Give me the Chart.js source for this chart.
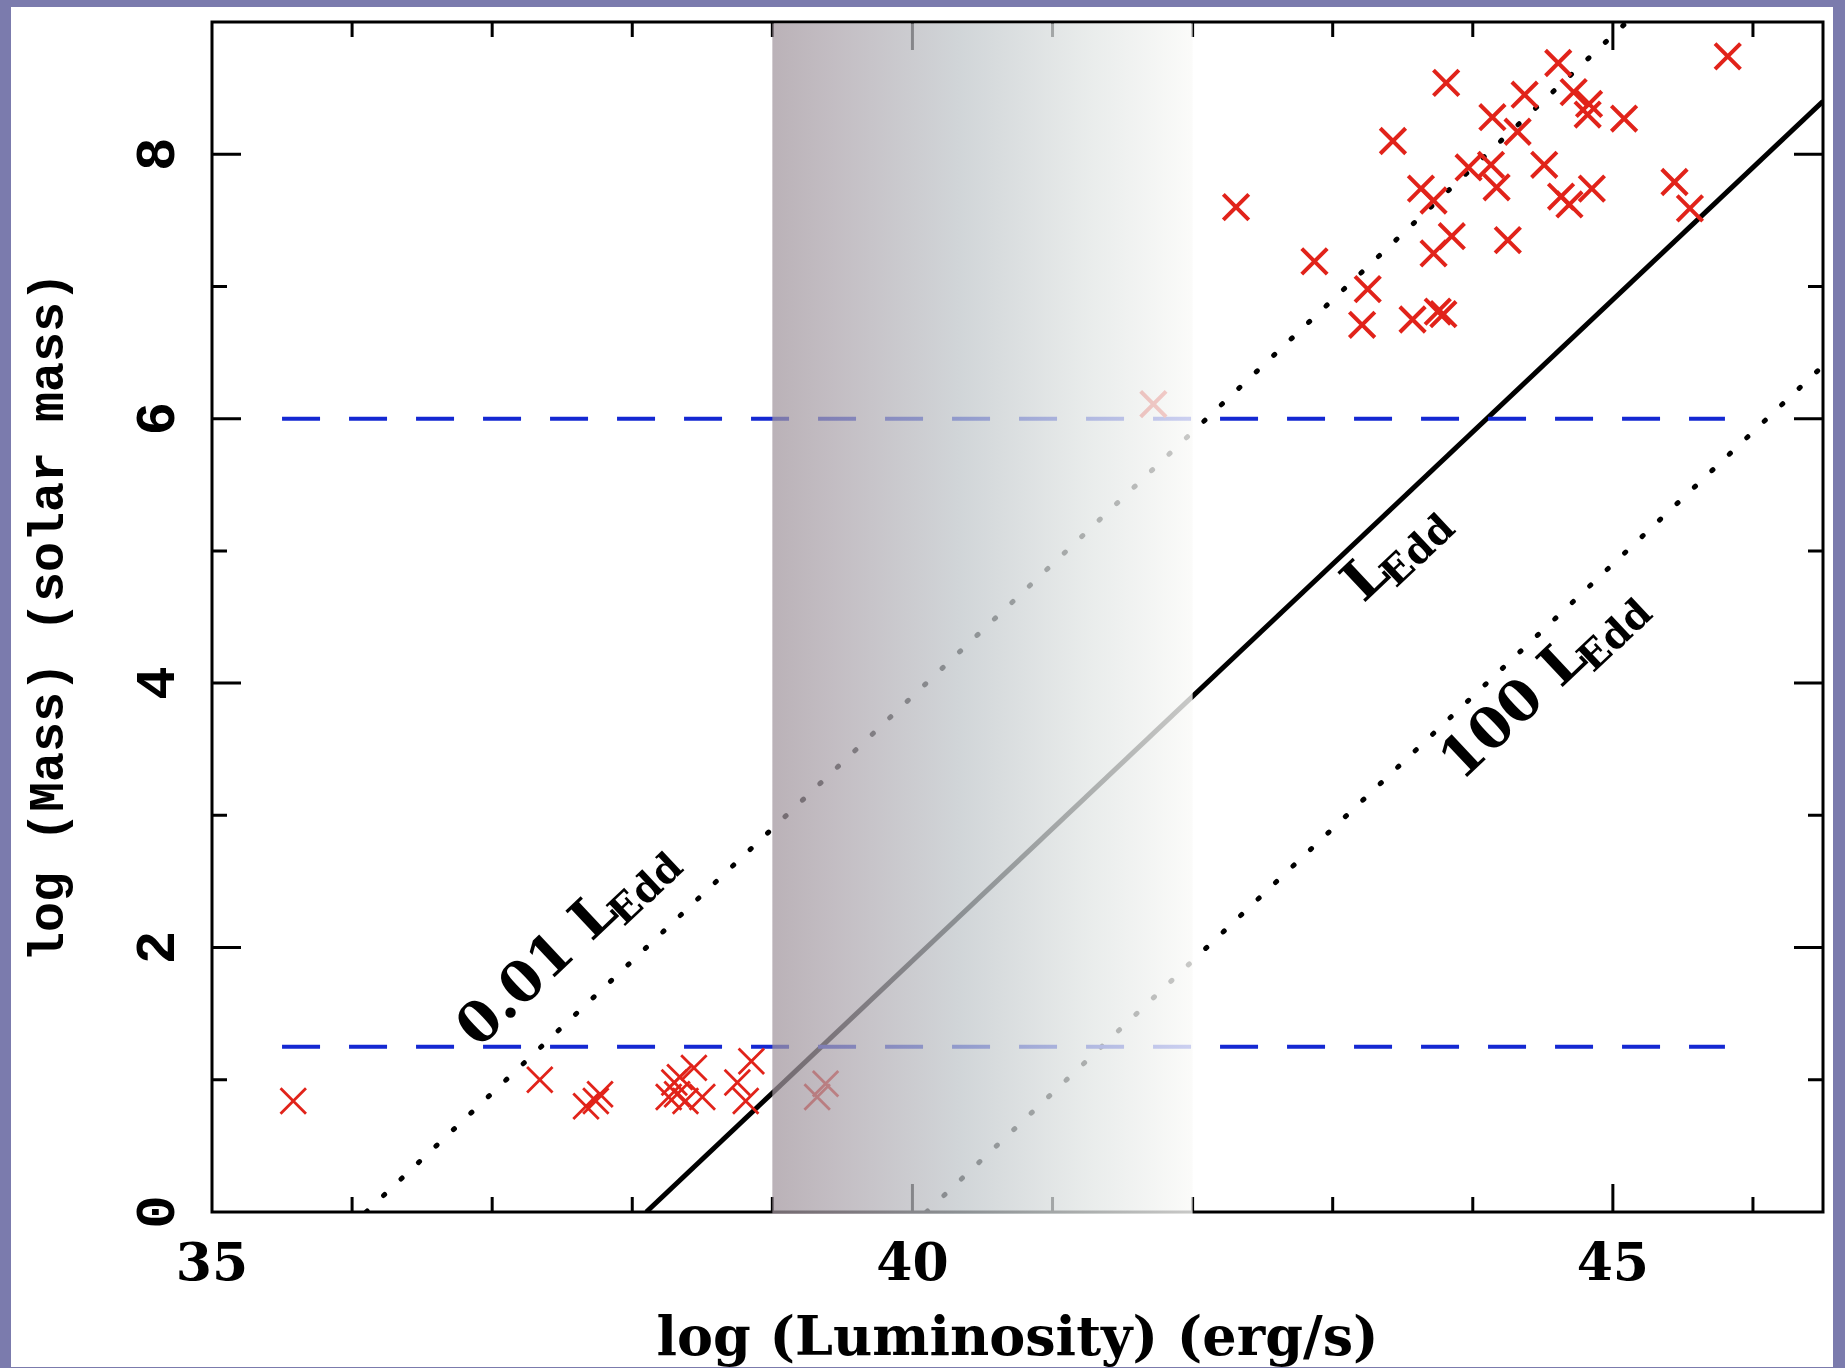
<!DOCTYPE html>
<html>
<head>
<meta charset="utf-8">
<title>log Mass vs log Luminosity</title>
<script src="https://cdn.jsdelivr.net/npm/chart.js@4.4.1/dist/chart.umd.min.js"></script>
<style>
  html, body { margin: 0; padding: 0; background: #7b7bad; }
  #wrap { width: 1845px; height: 1368px; }
</style>
</head>
<body>
<div id="wrap"><canvas id="myChart" width="1845" height="1368"></canvas></div>
<script>
// supermassive black holes (log L, log M)
const agnLum  = [45.82, 44.61, 43.81, 44.37, 44.72, 44.83, 44.82, 44.14, 45.08, 43.43, 44.32,
                 43.97, 44.51, 44.13, 44.17, 43.63, 43.72, 44.63, 44.69, 44.85, 45.44, 45.55,
                 42.31, 42.87, 43.72, 43.85, 44.25, 43.25, 43.21, 43.57, 43.75, 43.79, 41.72];
const agnMass = [8.74, 8.69, 8.54, 8.45, 8.47, 8.38, 8.30, 8.28, 8.27, 8.10, 8.17,
                 7.90, 7.92, 7.92, 7.75, 7.74, 7.65, 7.68, 7.62, 7.74, 7.79, 7.59,
                 7.60, 7.19, 7.25, 7.38, 7.35, 6.98, 6.71, 6.75, 6.81, 6.79, 6.11];
// stellar mass black holes
const xrbLum  = [35.58, 37.34, 37.67, 37.77, 37.74, 38.26, 38.30, 38.34, 38.32, 38.38,
                 38.44, 38.50, 38.75, 38.81, 38.85, 39.32, 39.38];
const xrbMass = [0.84, 1.00, 0.80, 0.89, 0.84, 0.87, 0.98, 1.02, 0.89, 0.84,
                 1.09, 0.87, 0.98, 0.84, 1.14, 0.87, 0.97];

// Eddington lines 0.01, 1, 100 L_Edd (end points)
const eddLum  = [[36.1, 45.1], [38.1, 46.5], [40.1, 46.5]];
const eddMass = [[0, 9], [0, 8.4], [0, 6.4]];
const eddText = ['0.01 L', 'L', '100 L'];
const labelLum  = [36.9, 43.22, 43.92];
const labelMass = [1.23, 4.60, 3.25];

// blue dashed mass limits
const limitMass = [6, 1.25];
const limitLum  = [35.5, 45.8];

// shaded band
const bandLum = [39, 42];

const xTicks = [35, 40, 45];
const yTicks = [0, 2, 4, 6, 8];

const RED = '#e1231a';
const BLUE = '#1428d2';

function pts(xs, ys){
    return xs.map((x, i) => ({x: x, y: ys[i]}));
}

const datasets = [];
datasets.push({
    label: 'SMBH', data: pts(agnLum, agnMass),
    pointStyle: 'crossRot', pointRadius: 18, pointHoverRadius: 18,
    pointBorderWidth: 4, pointBorderColor: RED, pointBackgroundColor: RED
});
datasets.push({
    label: 'XRB', data: pts(xrbLum, xrbMass),
    pointStyle: 'crossRot', pointRadius: 18, pointHoverRadius: 18,
    pointBorderWidth: 2.8, pointBorderColor: RED, pointBackgroundColor: RED
});
limitMass.forEach(m => {
    datasets.push({
        label: 'limit', data: [{x: limitLum[0], y: m}, {x: limitLum[1], y: m}],
        showLine: true, pointRadius: 0, borderColor: BLUE, borderWidth: 4,
        borderDash: [38, 29], borderCapStyle: 'butt'
    });
});
eddLum.forEach((l, i) => {
    const dotted = i != 1;
    datasets.push({
        label: eddText[i], data: [{x: l[0], y: eddMass[i][0]}, {x: l[1], y: eddMass[i][1]}],
        showLine: true, pointRadius: 0, borderColor: '#000',
        borderWidth: 5,
        borderDash: dotted ? [1.5, 22.5] : [],
        borderCapStyle: dotted ? 'round' : 'butt'
    });
});

function drawEdd(c, txt, x, y, ang, size){
    c.save();
    c.translate(x, y);
    c.rotate(ang);
    c.fillStyle = '#000';
    c.textAlign = 'left';
    c.textBaseline = 'alphabetic';
    c.font = 'bold ' + size + 'px "DejaVu Serif"';
    c.fillText(txt, 0, 0);
    const w = c.measureText(txt).width;
    c.font = 'bold ' + Math.round(size * 0.7) + 'px "DejaVu Serif"';
    c.fillText('Edd', w - size * 0.1, size * 0.2);
    c.restore();
}

const framePlugin = {
    id: 'frame',
    beforeDraw(chart){
        const c = chart.ctx;
        c.save();
        c.fillStyle = '#7b7bad';
        c.fillRect(0, 0, chart.width, chart.height);
        c.fillStyle = '#ffffff';
        c.fillRect(11, 7, chart.width - 23, chart.height - 8);
        c.restore();
    },
    beforeDatasetsDraw(chart){
        const c = chart.ctx, a = chart.chartArea;
        const xs = chart.scales.x, ys = chart.scales.y;
        c.save();
        c.strokeStyle = '#000';
        c.lineWidth = 3;
        c.strokeRect(a.left, a.top, a.right - a.left, a.bottom - a.top);
        c.beginPath();
        for (let v = 36; v <= 46; v++){
            const px = xs.getPixelForValue(v);
            const len = v % 5 == 0 ? 28 : 15;
            c.moveTo(px, a.bottom); c.lineTo(px, a.bottom - len);
            c.moveTo(px, a.top); c.lineTo(px, a.top + len);
        }
        for (let v = 1; v <= 8; v++){
            const py = ys.getPixelForValue(v);
            const len = v % 2 == 0 ? 29 : 15;
            c.moveTo(a.left, py); c.lineTo(a.left + len, py);
            c.moveTo(a.right, py); c.lineTo(a.right - len, py);
        }
        c.stroke();
        c.restore();
    },
    afterDatasetsDraw(chart){
        const c = chart.ctx, a = chart.chartArea;
        const xs = chart.scales.x;
        const x0 = xs.getPixelForValue(bandLum[0]);
        const x1 = xs.getPixelForValue(bandLum[1]);
        const g = c.createLinearGradient(x0, 0, x1, 0);
        g.addColorStop(0, 'rgba(160,148,156,0.72)');
        g.addColorStop(0.15, 'rgba(172,164,172,0.72)');
        g.addColorStop(0.45, 'rgba(192,198,202,0.73)');
        g.addColorStop(0.75, 'rgba(226,230,229,0.76)');
        g.addColorStop(1, 'rgba(250,250,248,0.8)');
        c.save();
        c.fillStyle = g;
        c.fillRect(x0, a.top + 1.5, x1 - x0, a.bottom - a.top + 0.5);
        c.restore();
    },
    afterDraw(chart){
        const c = chart.ctx, a = chart.chartArea;
        const xs = chart.scales.x, ys = chart.scales.y;
        c.save();
        c.fillStyle = '#000';
        // x tick labels
        c.font = 'bold 52px "DejaVu Serif"';
        c.textAlign = 'center';
        c.textBaseline = 'alphabetic';
        xTicks.forEach(v => c.fillText(String(v), xs.getPixelForValue(v), a.bottom + 68));
        // x title
        c.font = 'bold 54px "DejaVu Serif"';
        c.fillText('log (Luminosity) (erg/s)', (a.left + a.right) / 2, a.bottom + 143);
        // y tick labels
        c.font = 'bold 56px "Liberation Mono"';
        c.textBaseline = 'middle';
        yTicks.forEach(v => {
            c.save();
            c.translate(a.left - 52, ys.getPixelForValue(v));
            c.rotate(-Math.PI / 2);
            c.fillText(String(v), 0, 0);
            c.restore();
        });
        // y title
        c.save();
        c.translate(50, (a.top + a.bottom) / 2);
        c.rotate(-Math.PI / 2);
        c.font = 'bold 50px "Liberation Mono"';
        c.fillText('log (Mass) (solar mass)', 0, 0);
        c.restore();
        // line labels
        const p0x = xs.getPixelForValue(eddLum[1][0]), p0y = ys.getPixelForValue(eddMass[1][0]);
        const p1x = xs.getPixelForValue(eddLum[1][1]), p1y = ys.getPixelForValue(eddMass[1][1]);
        const ang = Math.atan2(p1y - p0y, p1x - p0x);
        eddText.forEach((t, i) => {
            drawEdd(c, t, xs.getPixelForValue(labelLum[i]), ys.getPixelForValue(labelMass[i]), ang, 56);
        });
        c.restore();
    }
};

new Chart(document.getElementById('myChart'), {
    type: 'scatter',
    data: { datasets: datasets },
    options: {
        responsive: false,
        devicePixelRatio: 1,
        animation: false,
        events: [],
        layout: { padding: { left: 212, right: 21, top: 14, bottom: 156 } },
        plugins: { legend: { display: false }, tooltip: { enabled: false } },
        scales: {
            x: { type: 'linear', min: 35, max: 46.5, display: false },
            y: { type: 'linear', min: 0, max: 9, display: false }
        }
    },
    plugins: [framePlugin]
});
</script>
</body>
</html>
